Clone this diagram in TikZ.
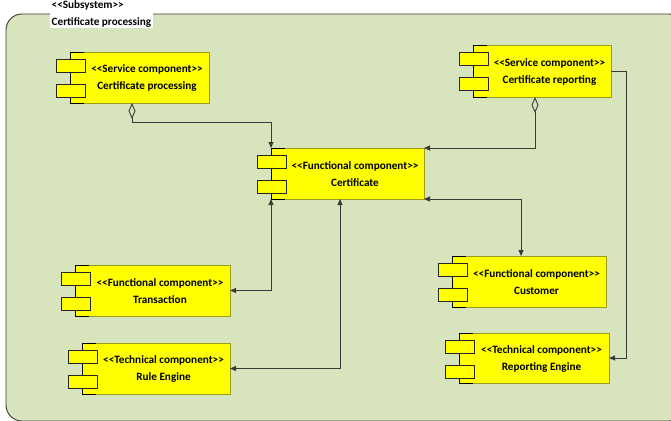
\documentclass[tikz,border=0pt]{standalone}
\usepackage{fontspec}
\setmainfont{Carlito}
\usetikzlibrary{arrows.meta,calc}

\definecolor{panelgreen}{HTML}{D8E4BC}
\definecolor{compyellow}{HTML}{FFFF00}
\definecolor{compedge}{HTML}{9C9C1C}
\definecolor{wire}{HTML}{3A3A3A}

% plain double angle brackets (kept apart so they are not merged into guillemets)
\newcommand\stlt{<\kern0pt<}
\newcommand\stgt{>\kern0pt>}

\tikzset{
  compbody/.style={draw=compedge, fill=compyellow, line width=0.9pt,
    inner sep=0pt, outer sep=0pt, anchor=north west},
  comptab/.style={draw=black!85, fill=compyellow, line width=0.9pt,
    inner sep=0pt, outer sep=0pt, anchor=north west,
    minimum width=29pt, minimum height=13pt},
  comptext/.style={align=center, inner sep=0pt,
    font=\bfseries\fontsize{11.2}{17}\selectfont},
  conn/.style={draw=wire, line width=0.9pt},
  tip/.tip={Triangle[length=6pt, width=5pt]},
  agg/.tip={Diamond[open, length=16pt, width=7pt]},
}

% UML component: name, left, top, right, bottom, stereotype, title
\newcommand\umlcomp[7]{%
  \node[compbody, minimum width={(#4-#2)*1pt}, minimum height={(#5-#3)*1pt}]
    (#1) at (#2,#3) {};
  \draw[black, line width=0.9pt] (#2+14,#3) -- (#2,#3) -- (#2,#5) -- (#2+14,#5);
  \node[comptab] (#1-t1) at (#2-14,#3+7) {};
  \node[comptab] (#1-t2) at (#2-14,#3+32) {};
  \node[comptext] (#1-text) at ({(#2+15+#4)/2},{(#3+#5)/2+1}) {\stlt#6\stgt\\#7};
}

\begin{document}
\begin{tikzpicture}[x=1pt, y=-1pt]
  \useasboundingbox (0,0) rectangle (671,420);

  % subsystem frame and its caption
  \draw[draw=wire, fill=panelgreen, line width=0.9pt, rounded corners=16pt]
    (6,14) rectangle (685,421);
  \node[fill=white, anchor=north west, inner xsep=1.5pt, inner ysep=1pt,
        align=left, font=\bfseries\fontsize{11.2}{17.5}\selectfont]
    (frame-caption) at (50,-1) {\stlt Subsystem\stgt\\Certificate processing};

  % components
  \umlcomp{cp}{70}{52}{209}{103}{Service component}{Certificate processing}
  \umlcomp{cr}{473}{45}{611}{97}{Service component}{Certificate reporting}
  \umlcomp{cert}{271}{148}{424}{199}{Functional component}{Certificate}
  \umlcomp{tr}{75}{265}{230}{316}{Functional component}{Transaction}
  \umlcomp{re}{82}{343}{230}{394}{Technical component}{Rule Engine}
  \umlcomp{cu}{452}{256}{606}{307}{Functional component}{Customer}
  \umlcomp{rep}{459}{333}{609}{383}{Technical component}{Reporting Engine}

  % routing points
  \coordinate (cpbend) at (132,122);
  \coordinate (crdrop) at (535,0);
  \coordinate (rptrunk) at (626,0);
  \coordinate (cudrop) at (521,0);
  \coordinate (redrop) at (340,0);

  % connectors
  \draw[conn, agg-tip] (cp.south -| cpbend) -- (cpbend) -| (cert.north west);
  \draw[conn, agg-tip] (cr.south -| crdrop) |- (cert.north east);
  \draw[conn, -tip] (cr.east) -- (cr.east -| rptrunk) -- (rep.east -| rptrunk) -- (rep.east);
  \draw[conn, tip-tip] (cert.south east) -| (cu.north -| cudrop);
  \draw[conn, tip-tip] (cert.south west) |- (tr.east);
  \draw[conn, tip-tip] (cert.south -| redrop) |- (re.east);
\end{tikzpicture}
\end{document}
